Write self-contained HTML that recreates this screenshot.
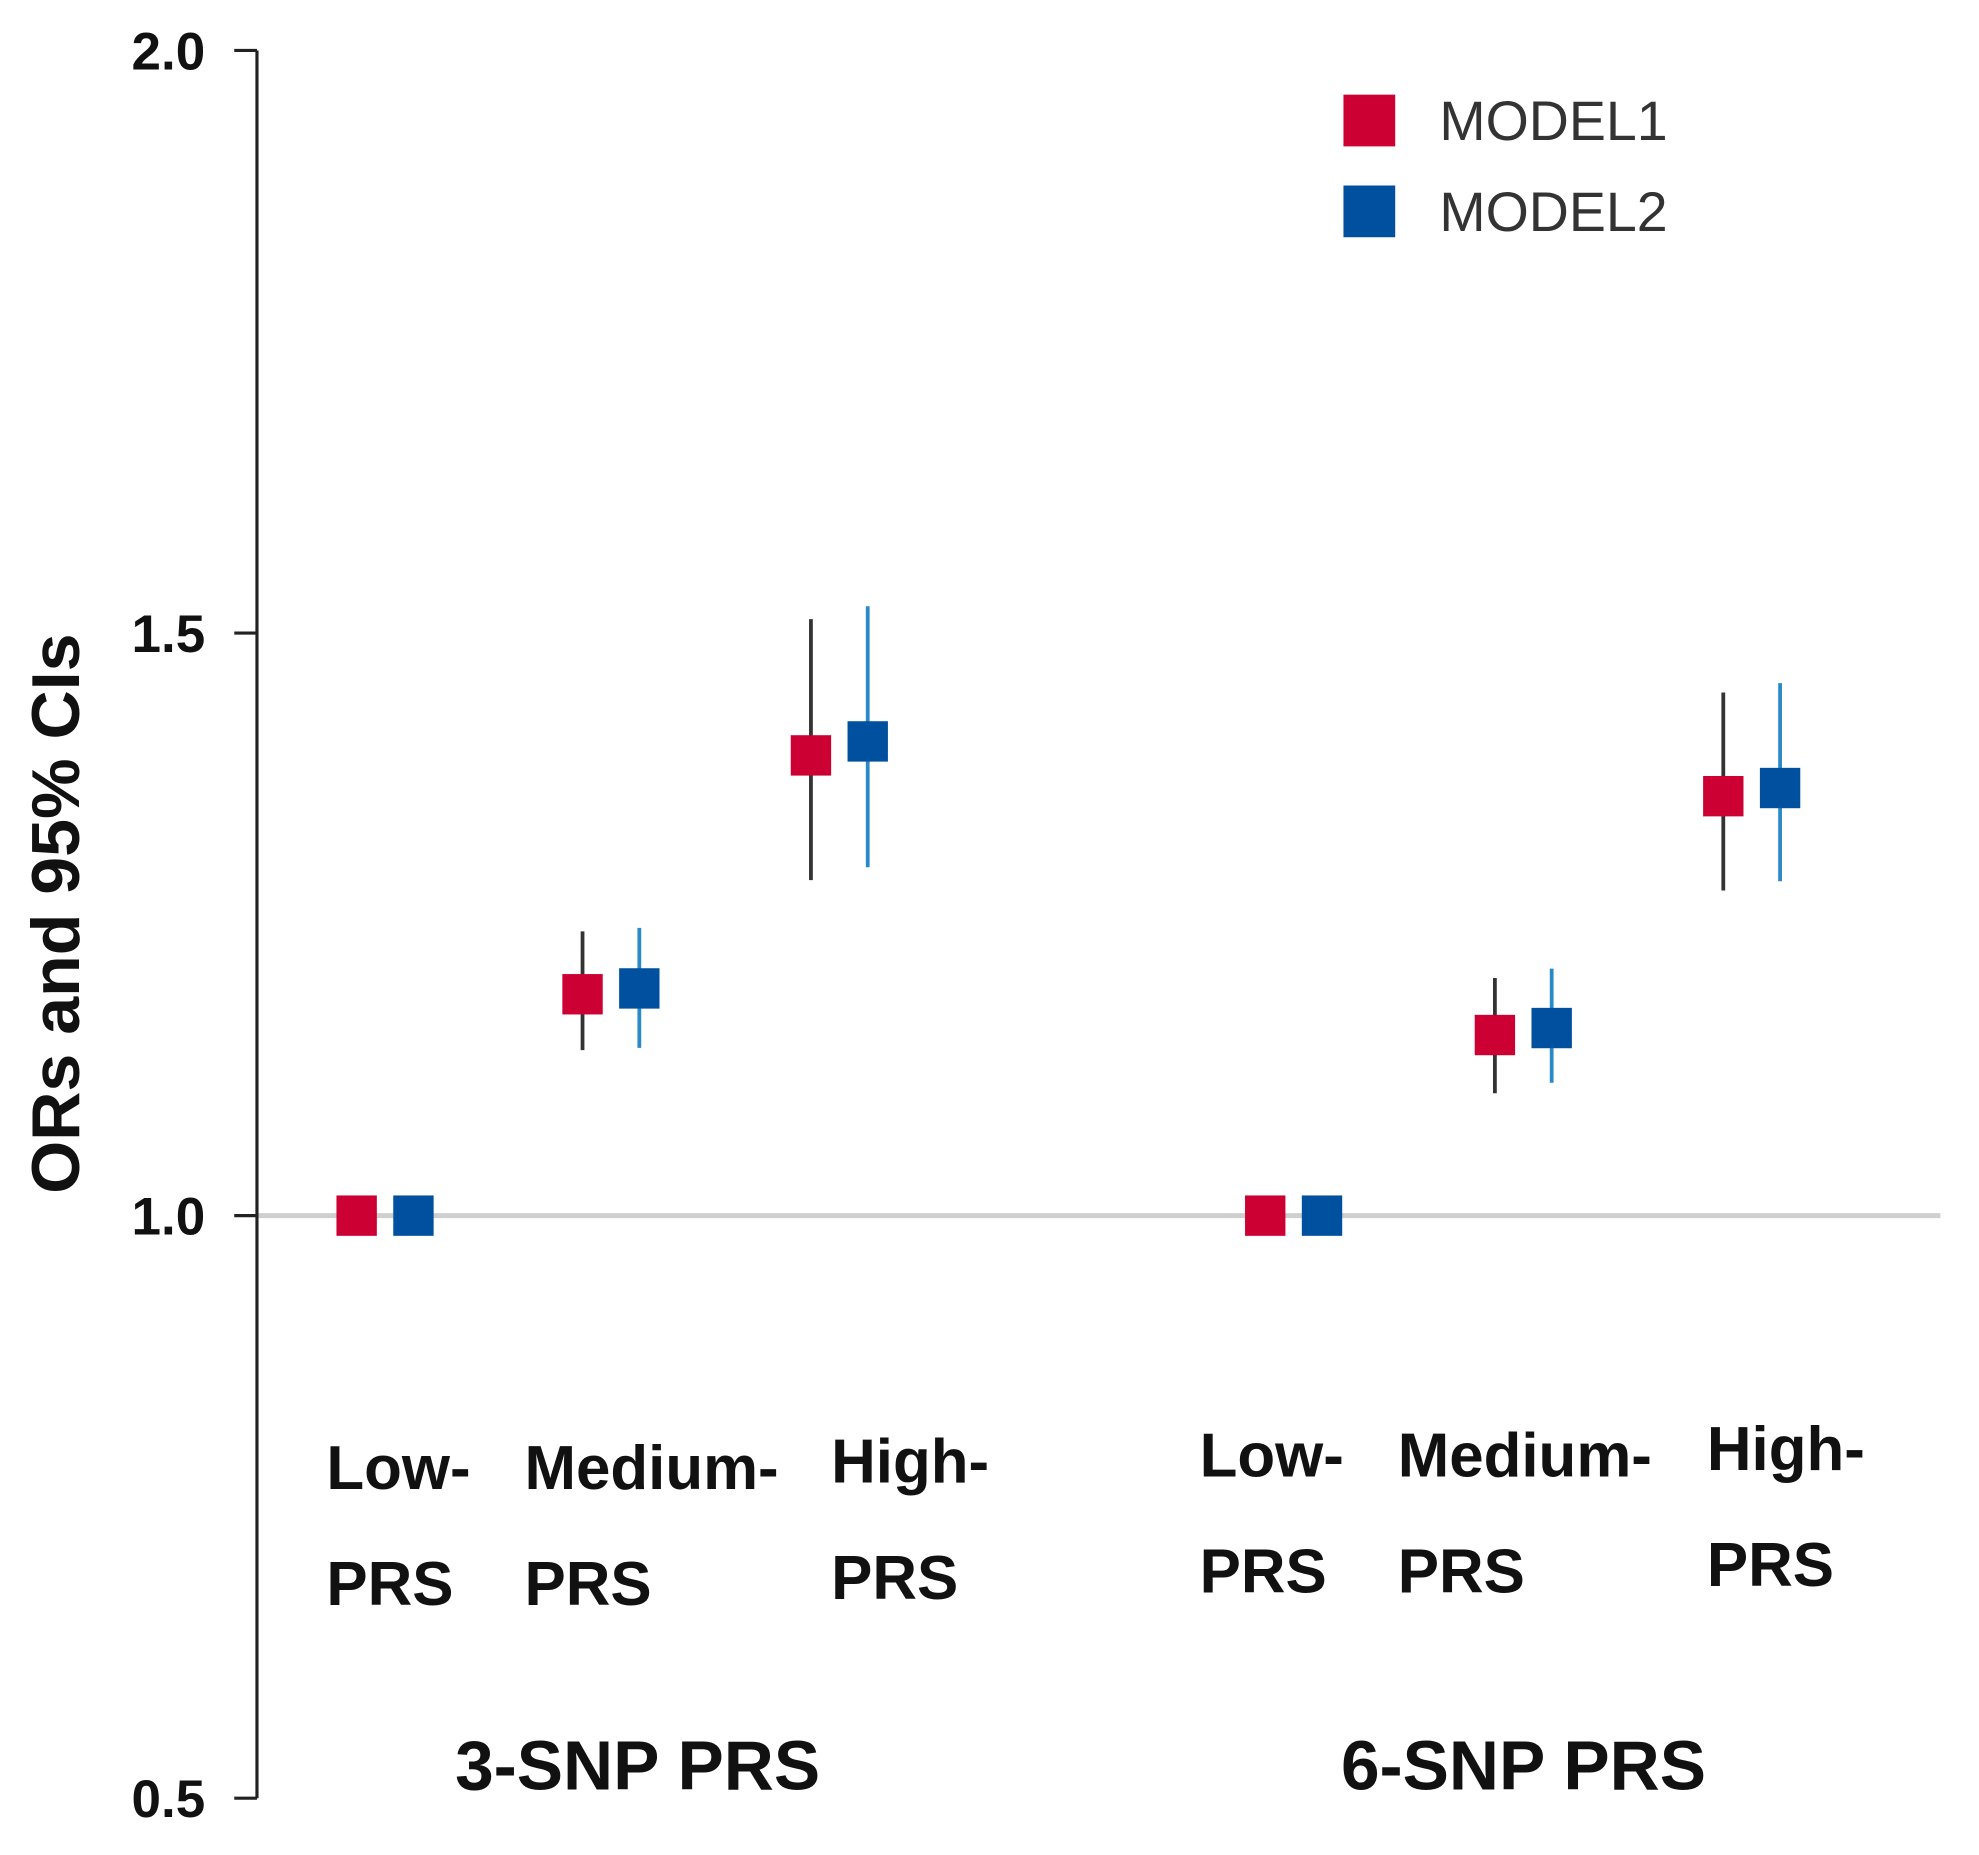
<!DOCTYPE html>
<html><head><meta charset="utf-8"><style>
html,body{margin:0;padding:0;background:#fff;}
svg{display:block;}
text{font-family:"Liberation Sans",Arial,sans-serif;}
</style></head>
<body>
<svg id="chart" width="1979" height="1855" viewBox="0 0 1567 1470" xmlns="http://www.w3.org/2000/svg">
<g id="axes"></g>
<g id="marks"></g>
<g id="labels"></g>
</svg>
<script>
const categories = ["Low-|PRS","Medium-|PRS","High-|PRS","Low-|PRS","Medium-|PRS","High-|PRS"];
const groups = ["3-SNP PRS","6-SNP PRS"];
const model1OR = [1.0, 1.19, 1.395, 1.0, 1.155, 1.36];
const model1Lo = [1.0, 1.142, 1.288, 1.0, 1.105, 1.279];
const model1Hi = [1.0, 1.244, 1.512, 1.0, 1.204, 1.449];
const model2OR = [1.0, 1.195, 1.407, 1.0, 1.161, 1.367];
const model2Lo = [1.0, 1.144, 1.299, 1.0, 1.114, 1.287];
const model2Hi = [1.0, 1.247, 1.523, 1.0, 1.212, 1.457];
const yTicks = ["0.5","1.0","1.5","2.0"];

const NS="http://www.w3.org/2000/svg";
const catX=[282,461,642,1002,1184,1365];
const catLabelX=[258,415,658,950,1107,1352];
const catLabelY=[1180,1180,1175,1170,1170,1165];
const groupX=[360,1062];
function y(v){return 1425-(v-0.5)/1.5*1385;}
function mk(tag,attrs,parent){const e=document.createElementNS(NS,tag);for(const k in attrs)e.setAttribute(k,attrs[k]);parent.appendChild(e);return e;}
const axes=document.getElementById('axes'),marks=document.getElementById('marks'),labels=document.getElementById('labels');

let ref=mk('line',{x1:203,x2:1537,y1:y(1),y2:y(1),stroke:'#cfcfcf','stroke-width':4},axes);


let ax=mk('line',{x1:203,x2:203,y1:y(2),y2:y(0.5),stroke:'#222','stroke-width':2.5},axes);


yTicks.forEach(t=>{
  const v=parseFloat(t);
  let tk=mk('line',{x1:185,x2:203,y1:y(v),y2:y(v),stroke:'#222','stroke-width':2.5},axes);
  
  
  let tl=mk('text',{x:162,y:y(v)+15,'text-anchor':'end','font-size':42,'font-weight':'bold',fill:'#111'},axes);
  tl.textContent=t;
  
  
});
let yt=mk('text',{x:0,y:0,transform:'translate(62,724) rotate(-90)','text-anchor':'middle','font-size':54,'font-weight':'bold',fill:'#111'},axes);
yt.textContent='ORs and 95% CIs';



function series(or,lo,hi,dx,fill,lineCol,name){
  or.forEach((v,i)=>{
    const cx=catX[i]+dx;
    if(hi[i]>lo[i]){
      let l=mk('line',{x1:cx,x2:cx,y1:y(hi[i]),y2:y(lo[i]),stroke:lineCol,'stroke-width':3},marks);
      
      
    }
    let r=mk('rect',{x:cx-16,y:y(v)-16,width:32,height:32,fill:fill},marks);
    
    
  });
}
series(model1OR,model1Lo,model1Hi,0,'#cc0033','#333','model1');
series(model2OR,model2Lo,model2Hi,45,'#0050a0','#2a8ac8','model2');

categories.forEach((c,i)=>{
  const parts=c.split('|');
  let t1=mk('text',{x:catLabelX[i],y:catLabelY[i],'font-size':49,'font-weight':'bold',fill:'#111'},labels);
  t1.textContent=parts[0];
  
  
  let t2=mk('text',{x:catLabelX[i],y:catLabelY[i]+92,'font-size':49,'font-weight':'bold',fill:'#111'},labels);
  t2.textContent=parts[1];
  
  
});
groups.forEach((g,i)=>{
  let t=mk('text',{x:groupX[i],y:1418,'font-size':55,'font-weight':'bold',fill:'#111'},labels);
  t.textContent=g;
  
  
});
[['MODEL1','#cc0033',95],['MODEL2','#0050a0',167]].forEach(([n,c,cy])=>{
  let r=mk('rect',{x:1064,y:cy-20,width:41,height:41,fill:c},labels);
  
  
  let t=mk('text',{x:1140,y:cy+16,'font-size':44,fill:'#333'},labels);
  t.textContent=n;
  
  
});
</script>
</body></html>
